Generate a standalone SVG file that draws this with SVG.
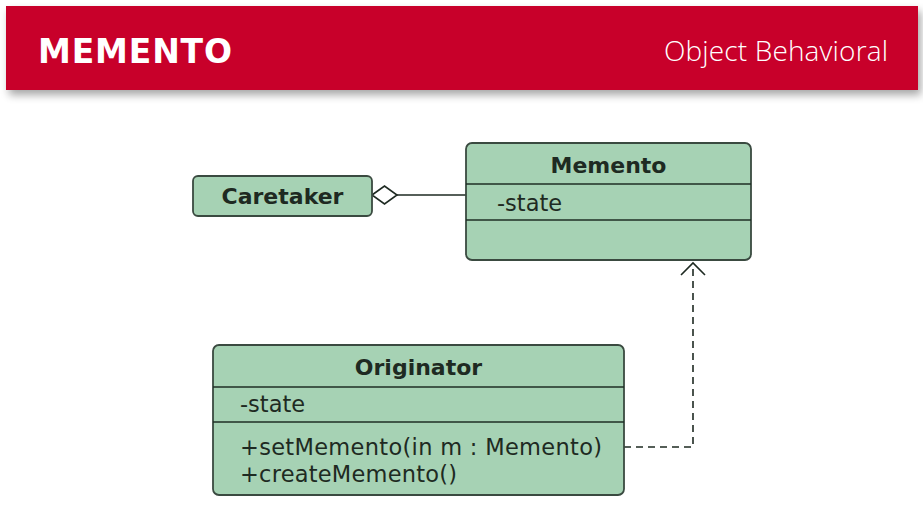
<svg xmlns="http://www.w3.org/2000/svg" width="923" height="509" viewBox="0 0 923 509">
<defs>
<filter id="sh" x="-5%" y="-20%" width="110%" height="150%">
<feGaussianBlur in="SourceAlpha" stdDeviation="4"/>
<feOffset dx="3" dy="5"/>
<feComponentTransfer><feFuncA type="linear" slope="0.35"/></feComponentTransfer>
<feMerge><feMergeNode/><feMergeNode in="SourceGraphic"/></feMerge>
</filter>
</defs>
<style>
.box{fill:#a6d2b4;stroke:#3a4a40;stroke-width:1.8}
.div{stroke:#1e2e24;stroke-width:1.6}
.t{font-family:"DejaVu Sans",sans-serif;font-weight:bold;font-size:22px;fill:#1e2a22}
.a{font-family:"DejaVu Sans",sans-serif;font-size:22.5px;fill:#1e2a22}
.conn{fill:none;stroke:#1e2a22;stroke-width:1.6}
</style>
<rect width="923" height="509" fill="#ffffff"/>
<g id="header">
<rect x="6" y="6" width="912" height="84" fill="#c8002a" filter="url(#sh)"/>
<text x="38" y="63" font-family="DejaVu Sans, sans-serif" font-weight="bold" font-size="33" fill="#ffffff" textLength="194">MEMENTO</text>
<text x="888" y="61" text-anchor="end" font-family="Open Sans, sans-serif" font-weight="300" font-size="28" fill="#ffffff" textLength="224">Object Behavioral</text>
</g>
<g id="connectors">
<line class="conn" x1="397" y1="195" x2="466" y2="195"/>
<path d="M372,195 L384.5,186 L397,195 L384.5,204 Z" fill="#ffffff" stroke="#1e2a22" stroke-width="1.6"/>
<path class="conn" d="M624,447 L693,447 L693,264" stroke-dasharray="7,5"/>
<path class="conn" d="M681,275 L693,263 L705,275"/>
</g>
<g id="caretaker">
<rect class="box" x="193" y="176" width="179" height="40" rx="5"/>
<text class="t" x="282.5" y="204" text-anchor="middle">Caretaker</text>
</g>
<g id="memento">
<rect class="box" x="466" y="143" width="285" height="117" rx="6"/>
<line class="div" x1="466" y1="184" x2="751" y2="184"/>
<line class="div" x1="466" y1="220" x2="751" y2="220"/>
<text class="t" x="608.5" y="173" text-anchor="middle">Memento</text>
<text class="a" x="497" y="211">-state</text>
</g>
<g id="originator">
<rect class="box" x="213" y="345" width="411" height="150" rx="6"/>
<line class="div" x1="213" y1="387" x2="624" y2="387"/>
<line class="div" x1="213" y1="422" x2="624" y2="422"/>
<text class="t" x="418.5" y="375" text-anchor="middle">Originator</text>
<text class="a" x="240" y="412">-state</text>
<text class="a" x="240" y="455" textLength="362">+setMemento(in m : Memento)</text>
<text class="a" x="240" y="482" textLength="217">+createMemento()</text>
</g>
</svg>
